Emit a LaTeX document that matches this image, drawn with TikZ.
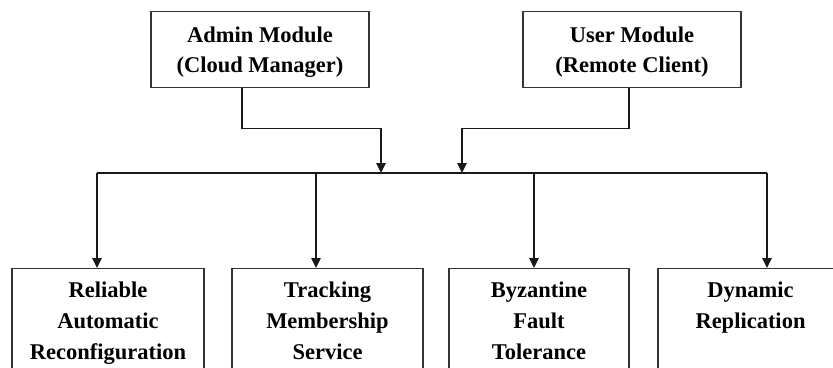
\documentclass[tikz,border=0pt]{standalone}
\usepackage{fontspec}
\setmainfont{Liberation Serif}
\usetikzlibrary{arrows.meta,calc}
\begin{document}
\begin{tikzpicture}[x=1pt,y=-1pt,
  txt/.style={font=\fontsize{22.5}{31}\selectfont\bfseries, align=center, text=black},
  framed/.style={draw=black!80, line width=1.4pt, inner sep=0pt, anchor=north},
  topbox/.style={framed, minimum width=218pt, minimum height=76pt},
  botbox/.style={framed, minimum height=150pt},
  toptext/.style={txt, font=\fontsize{22.5}{30.5}\selectfont\bfseries, anchor=north, inner sep=0pt, yshift=-15.3pt},
  boxtext/.style={txt, anchor=north, inner sep=0pt, yshift=-13.6pt},
  conn/.style={draw=black!90, line width=1.3pt},
  arr/.style={conn, -{Triangle[length=10pt,width=9.5pt]}}]
\useasboundingbox (0,0) rectangle (833,367);
\clip (0,0) rectangle (833,367);

% upper modules
\node[topbox, label={[toptext]north:Admin Module\\(Cloud Manager)}] (adm) at (260,11) {};
\node[topbox, label={[toptext]north:User Module\\(Remote Client)}] (usr) at (632,11) {};

% lower services, text set at the top of each box
\node[botbox, minimum width=192pt, label={[boxtext]north:Reliable\\Automatic\\Reconfiguration}] (b1) at (108,268) {};
\node[botbox, minimum width=191pt, label={[boxtext]north:Tracking\\Membership\\Service}] (b2) at (327.5,268) {};
\node[botbox, minimum width=180pt, label={[boxtext]north:Byzantine\\Fault\\Tolerance}] (b3) at (539,268) {};
\node[botbox, minimum width=185pt, label={[boxtext]north:Dynamic\\Replication}] (b4) at (750.5,268) {};

% distribution bus
\coordinate (j1) at (97,173);
\coordinate (j2) at (316,173);
\coordinate (ja) at (381,173);
\coordinate (ju) at (462,173);
\coordinate (j3) at (534,173);
\coordinate (j4) at (767,173);
\draw[conn] (j1) -- (j4);

% feeds from the modules into the bus
\draw[arr] ($(adm.south)+(-18,0)$) -- ++(0,40) -| (ja);
\draw[arr] ($(usr.south)+(-3,0)$) -- ++(0,40) -| (ju);

% branches to the services
\draw[arr] (j1) -- (j1 |- b1.north);
\draw[arr] (j2) -- (j2 |- b2.north);
\draw[arr] (j3) -- (j3 |- b3.north);
\draw[arr] (j4) -- (j4 |- b4.north);
\end{tikzpicture}
\end{document}
